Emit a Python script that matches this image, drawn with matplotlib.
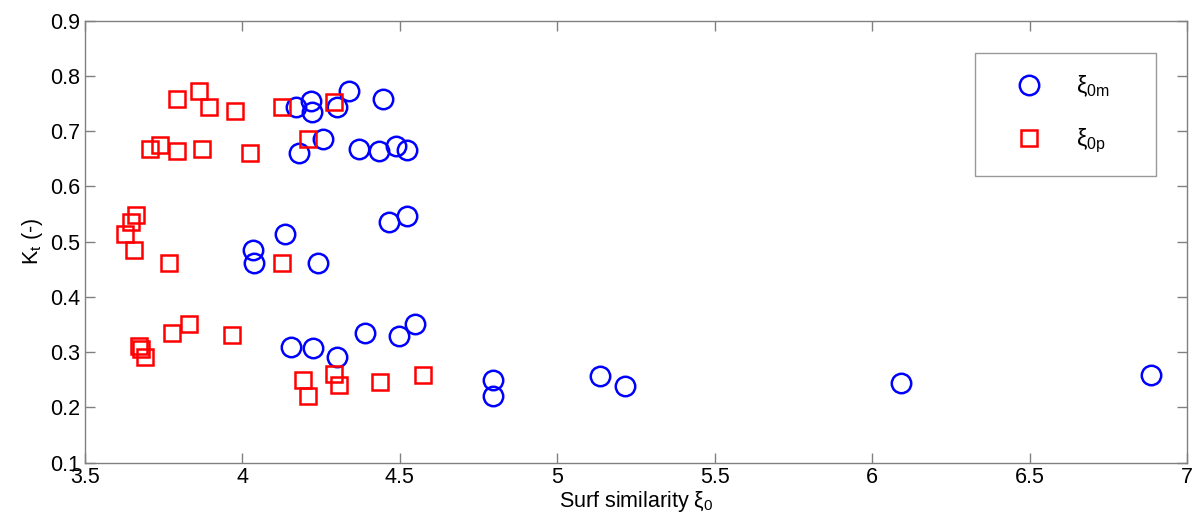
import matplotlib.pyplot as plt

plt.rcParams['font.family'] = ['Liberation Sans', 'DejaVu Sans']
plt.rcParams['mathtext.fontset'] = 'custom'
plt.rcParams['mathtext.rm'] = 'Liberation Sans'
plt.rcParams['mathtext.it'] = 'Liberation Sans'

# xi_0m series (blue circles)
xi_m = [4.17, 4.22, 4.223, 4.30, 4.339, 4.448,
        4.181, 4.257, 4.37, 4.434, 4.487, 4.522,
        4.035, 4.038, 4.136, 4.241, 4.465, 4.522,
        4.155, 4.225, 4.302, 4.391, 4.497, 4.548,
        4.795, 4.797, 5.136, 5.215, 6.091, 6.885]
kt_m = [0.743, 0.755, 0.735, 0.743, 0.772, 0.758,
        0.661, 0.685, 0.667, 0.664, 0.673, 0.666,
        0.485, 0.461, 0.514, 0.461, 0.535, 0.547,
        0.310, 0.307, 0.292, 0.335, 0.330, 0.351,
        0.250, 0.221, 0.257, 0.239, 0.245, 0.258]

# xi_0p series (red squares)
xi_p = [3.792, 3.862, 3.894, 3.976, 4.125, 4.291,
        3.707, 3.740, 3.792, 3.872, 4.025, 4.210,
        3.663, 3.647, 3.628, 3.657, 3.768, 4.125,
        3.672, 3.680, 3.691, 3.778, 3.830, 3.969,
        4.194, 4.210, 4.291, 4.307, 4.439, 4.575]
kt_p = [0.758, 0.772, 0.743, 0.737, 0.744, 0.753,
        0.667, 0.675, 0.664, 0.667, 0.661, 0.686,
        0.549, 0.535, 0.514, 0.485, 0.462, 0.462,
        0.312, 0.306, 0.292, 0.335, 0.351, 0.332,
        0.249, 0.221, 0.261, 0.240, 0.246, 0.259]

fig = plt.figure(figsize=(11.92, 5.21), dpi=100)
ax = fig.add_axes([0.0711, 0.1119, 0.9247, 0.8484])

ax.plot(xi_m, kt_m, 'o', ms=14, mfc='none', mec='#0000ff', mew=1.8,
        label=r'$\xi_{\mathrm{0m}}$')
ax.plot(xi_p, kt_p, 's', ms=11.5, mfc='none', mec='#ff0000', mew=1.8,
        label=r'$\xi_{\mathrm{0p}}$')

ax.set_xlim(3.5, 7)
ax.set_ylim(0.1, 0.9)
ax.set_xticks([3.5, 4, 4.5, 5, 5.5, 6, 6.5, 7])
ax.set_xticklabels(['3.5', '4', '4.5', '5', '5.5', '6', '6.5', '7'])
ax.set_yticks([0.1, 0.2, 0.3, 0.4, 0.5, 0.6, 0.7, 0.8, 0.9])
ax.tick_params(direction='in', length=7, width=1, color='#808080',
               labelsize=15.5, top=True, right=True, pad=3)
for s in ax.spines.values():
    s.set_color('#808080')
    s.set_linewidth(1)

ax.set_xlabel(r'Surf similarity $\xi_{\mathrm{0}}$', fontsize=15.5, labelpad=1)
ax.set_ylabel(r'K$_{\mathrm{t}}$ (-)', fontsize=15.5, labelpad=4)

# fixed-width legend box in the upper right
leg = ax.legend(loc='upper left', bbox_to_anchor=(0.8077, 0.655, 0.1642, 0.272),
                mode='expand', fontsize=16.5, frameon=True, fancybox=False,
                borderpad=0.9, labelspacing=1.2, handletextpad=0.6,
                handlelength=2.9, borderaxespad=0)
leg.get_frame().set_edgecolor('#808080')
leg.get_frame().set_linewidth(1)

fig.savefig('out.png', dpi=100)
